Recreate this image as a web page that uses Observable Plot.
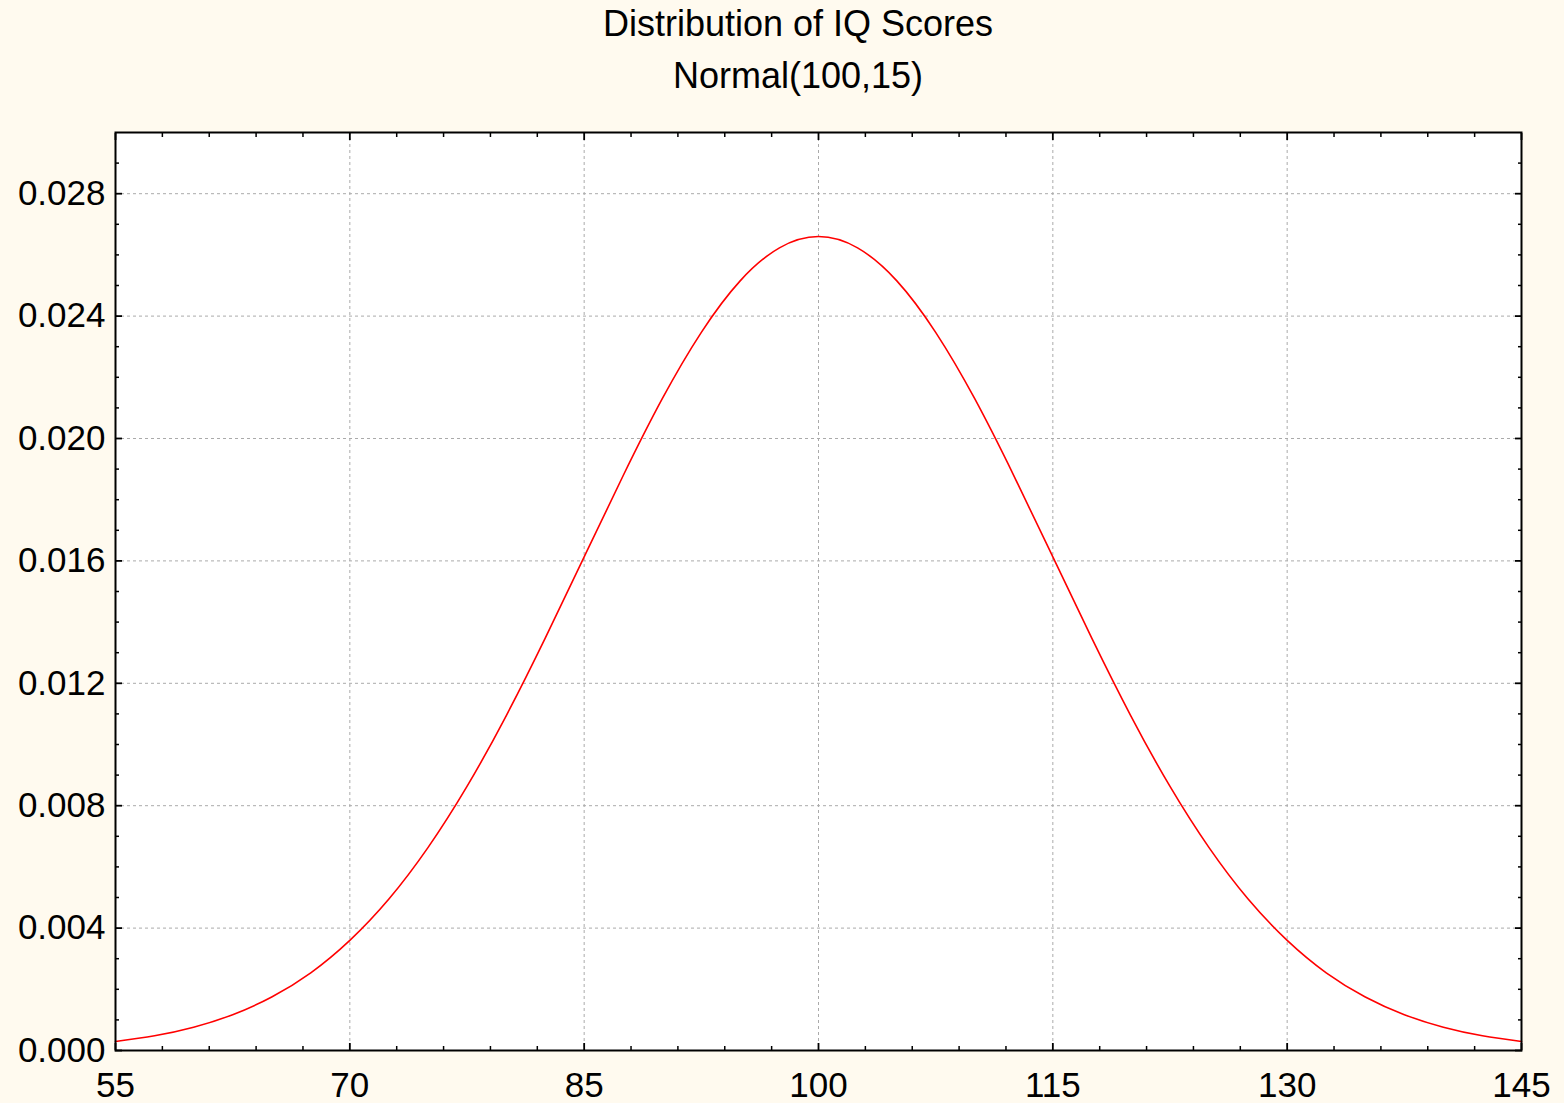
<!DOCTYPE html>
<html><head><meta charset="utf-8">
<script src="https://cdn.jsdelivr.net/npm/d3@7"></script>
<script src="https://cdn.jsdelivr.net/npm/@observablehq/plot@0.6"></script>
<style>
html,body{margin:0;padding:0;background:#fffaef;}
#wrap{width:1564px;height:1103px;position:relative;font-family:"Liberation Sans",Arial,sans-serif;}
.t{position:absolute;left:16px;width:1564px;text-align:center;font-size:36px;line-height:40px;color:#000;}
#chart{position:absolute;left:0;top:104px;}
</style></head><body>
<div id="wrap">
<div class="t" id="title" style="top:4px"></div>
<div class="t" id="subtitle" style="top:56px"></div>
<div id="chart"></div>
</div>
<script>
const title = "Distribution of IQ Scores";
const subtitle = "Normal(100,15)";
const iq = [55,57.5,60,62.5,65,67.5,70,72.5,75,77.5,80,82.5,85,87.5,90,92.5,95,97.5,100,102.5,105,107.5,110,112.5,115,117.5,120,122.5,125,127.5,130,132.5,135,137.5,140,142.5,145];
const density = [0.000295,0.00048,0.00076,0.00117,0.00175,0.00254,0.0036,0.00495,0.00663,0.00863,0.01093,0.01347,0.01613,0.01879,0.0213,0.02347,0.02516,0.02623,0.0266,0.02623,0.02516,0.02347,0.0213,0.01879,0.01613,0.01347,0.01093,0.00863,0.00663,0.00495,0.0036,0.00254,0.00175,0.00117,0.00076,0.00048,0.000295];
const xMajor = [55,70,85,100,115,130,145];
const xMinor = [58,61,64,67,73,76,79,82,88,91,94,97,103,106,109,112,118,121,124,127,133,136,139,142];
const yMajor = [0,0.004,0.008,0.012,0.016,0.020,0.024,0.028];
const yMinor = [0.001,0.002,0.003,0.005,0.006,0.007,0.009,0.010,0.011,0.013,0.014,0.015,0.017,0.018,0.019,0.021,0.022,0.023,0.025,0.026,0.027,0.029];
document.getElementById("title").textContent = title;
document.getElementById("subtitle").textContent = subtitle;
const data = iq.map((x,i)=>({x, y: density[i]}));
const inner = v => v.slice(1, -1);
const tk = (axis, ticks, anchor, size, sw) => axis(ticks, {anchor, tickSize: -size, text: null, label: null, strokeWidth: sw});
const plot = Plot.plot({
  width: 1564, height: 999,
  marginLeft: 115, marginRight: 43, marginTop: 28, marginBottom: 53,
  style: {background: "transparent", fontFamily: "'Liberation Sans', Arial, sans-serif", fontSize: "35px", color: "#000"},
  x: {domain: [55,145]},
  y: {domain: [0,0.03]},
  marks: [
    Plot.frame({fill: "#fff"}),
    Plot.gridX(inner(xMajor), {stroke: "#aaa", strokeOpacity: 1, strokeDasharray: "3,3", strokeWidth: 1}),
    Plot.gridY(yMajor.slice(1), {stroke: "#aaa", strokeOpacity: 1, strokeDasharray: "3,3", strokeWidth: 1}),
    Plot.line(data, {x: "x", y: "y", stroke: "#ff0000", strokeWidth: 1.6, curve: "natural"}),
    tk(Plot.axisX, xMajor, "bottom", 7, 1.8),
    tk(Plot.axisX, xMinor, "bottom", 4, 1.5),
    tk(Plot.axisX, xMajor, "top", 7, 1.8),
    tk(Plot.axisX, xMinor, "top", 4, 1.5),
    tk(Plot.axisY, yMajor, "left", 7, 1.8),
    tk(Plot.axisY, yMinor, "left", 4, 1.5),
    tk(Plot.axisY, yMajor, "right", 7, 1.8),
    tk(Plot.axisY, yMinor, "right", 4, 1.5),
    Plot.axisX(xMajor, {anchor: "bottom", tickSize: 0, tickPadding: 22, tickFormat: d => String(d), label: null, fontSize: 35}),
    Plot.axisY(yMajor, {anchor: "left", tickSize: 0, tickPadding: 10, tickFormat: d => d.toFixed(3), label: null, fontSize: 35}),
    Plot.frame({stroke: "#000", strokeWidth: 2})
  ]
});
document.getElementById("chart").appendChild(plot);
</script>
</body></html>
